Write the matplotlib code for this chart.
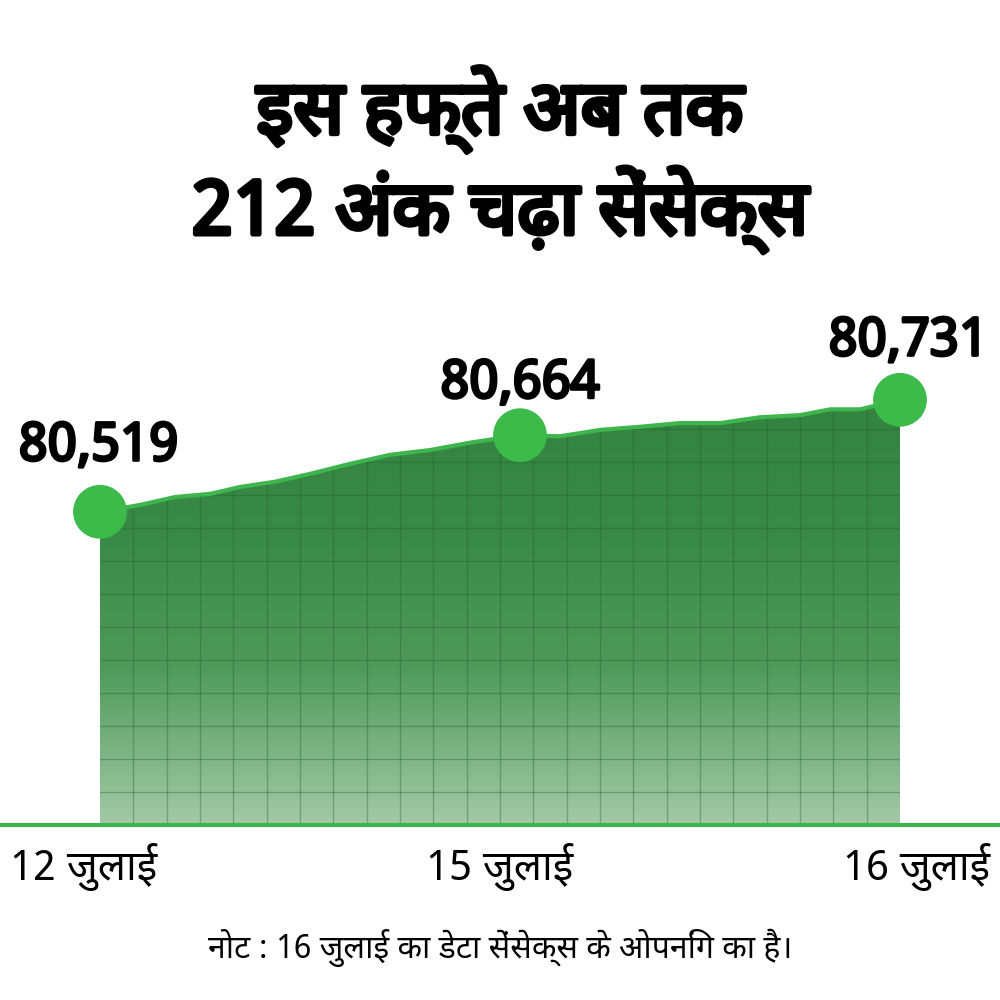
import matplotlib
matplotlib.use("Agg")
import matplotlib.pyplot as plt
import matplotlib.patheffects as pe
import numpy as np
from matplotlib import font_manager
from matplotlib.patches import Polygon
from matplotlib.colors import LinearSegmentedColormap

# fonts: prefer anything that carries Devanagari
avail = {f.name for f in font_manager.fontManager.ttflist}
fams = [f for f in ["Noto Sans Devanagari", "Lohit Devanagari", "Mukta",
                    "Noto Sans", "DejaVu Sans"] if f in avail] or ["DejaVu Sans"]
plt.rcParams["font.family"] = fams

TITLE = "इस हफ्ते अब तक\n212 अंक चढ़ा सेंसेक्स"
NOTE = "नोट : 16 जुलाई का डेटा सेंसेक्स के ओपनिंग का है।"
DATE_POS = [0.0, 0.525, 1.0]
DATE_LABELS = ["12 जुलाई", "15 जुलाई", "16 जुलाई"]
KEY_VALUES = [80519, 80664, 80731]
KEY_TEXT = ["80,519", "80,664", "80,731"]
# sensex path
LINE_X = [0.0, 0.05, 0.094, 0.138, 0.175, 0.219, 0.263, 0.313, 0.363, 0.413,
          0.463, 0.525, 0.575, 0.625, 0.675, 0.725, 0.775, 0.825, 0.875,
          0.913, 0.95, 1.0]
LINE_Y = [80519, 80532, 80547, 80553, 80566, 80576, 80591, 80610, 80627,
          80636, 80650, 80664, 80662, 80674, 80680, 80687, 80687, 80698,
          80702, 80713, 80713, 80731]

BOLD = [pe.withStroke(linewidth=2.2, foreground="black")]

Y0, Y1 = 79926, 80920
fig = plt.figure(figsize=(10, 10), dpi=100)
ax = fig.add_axes([0, 0.175, 1, 0.525])
ax.set_xlim(-0.125, 1.125)
ax.set_ylim(Y0, Y1)
ax.axis("off")

# gradient area clipped to the path
cmap = LinearSegmentedColormap.from_list(
    "g", [(0, "#a3c9a7"), (0.3, "#4f9a5b"), (0.55, "#3a8a47"), (1, "#2f7e3c")])
grad = np.linspace(0, 1, 256).reshape(-1, 1)
im = ax.imshow(grad, extent=[0, 1, Y0, Y1], origin="lower", aspect="auto",
               cmap=cmap, zorder=1)
poly = Polygon(list(zip(LINE_X, LINE_Y)) + [(1, Y0), (0, Y0)], closed=True,
               facecolor="none", edgecolor="none")
ax.add_patch(poly)
im.set_clip_path(poly)

# grid squares inside the area
for gx in np.linspace(0, 1, 25)[1:-1]:
    l = ax.axvline(gx, color="#1f5c2a", lw=1, alpha=0.35, zorder=2)
    l.set_clip_path(poly)
for gy in np.arange(Y0, Y1, 33 * 1.893)[1:]:
    l = ax.axhline(gy, color="#1f5c2a", lw=1, alpha=0.35, zorder=2)
    l.set_clip_path(poly)

ax.plot(LINE_X, LINE_Y, color="#3fb54d", lw=3, zorder=3)
ax.axhline(Y0, color="#3fb54d", lw=3, zorder=3, clip_on=False)
ax.scatter(DATE_POS, KEY_VALUES, s=1500, color="#3cbb4b", zorder=4,
           edgecolors="none")

# value labels: (dx in axis units, dy in px, ha)
offsets = [(-0.002, 65, "center"), (0.0, 51, "center"), (0.11, 58, "right")]
for x, v, t, (dx, dy, ha) in zip(DATE_POS, KEY_VALUES, KEY_TEXT, offsets):
    ax.text(x + dx, v + dy * 1.893, t, fontsize=38, fontweight="bold",
            ha=ha, va="center", zorder=5, path_effects=BOLD)

fig.text(0.5, 0.84, TITLE, fontsize=54, fontweight="bold", ha="center",
         va="center", linespacing=1.2,
         path_effects=[pe.withStroke(linewidth=3.5, foreground="black")])
for x, lab, ha in zip([0.01, 0.5, 0.99], DATE_LABELS,
                      ["left", "center", "right"]):
    fig.text(x, 0.133, lab, fontsize=30, ha=ha, va="center")
fig.text(0.5, 0.052, NOTE, fontsize=23, style="italic", ha="center",
         va="center")

fig.savefig("out.png", dpi=100, facecolor="white")
